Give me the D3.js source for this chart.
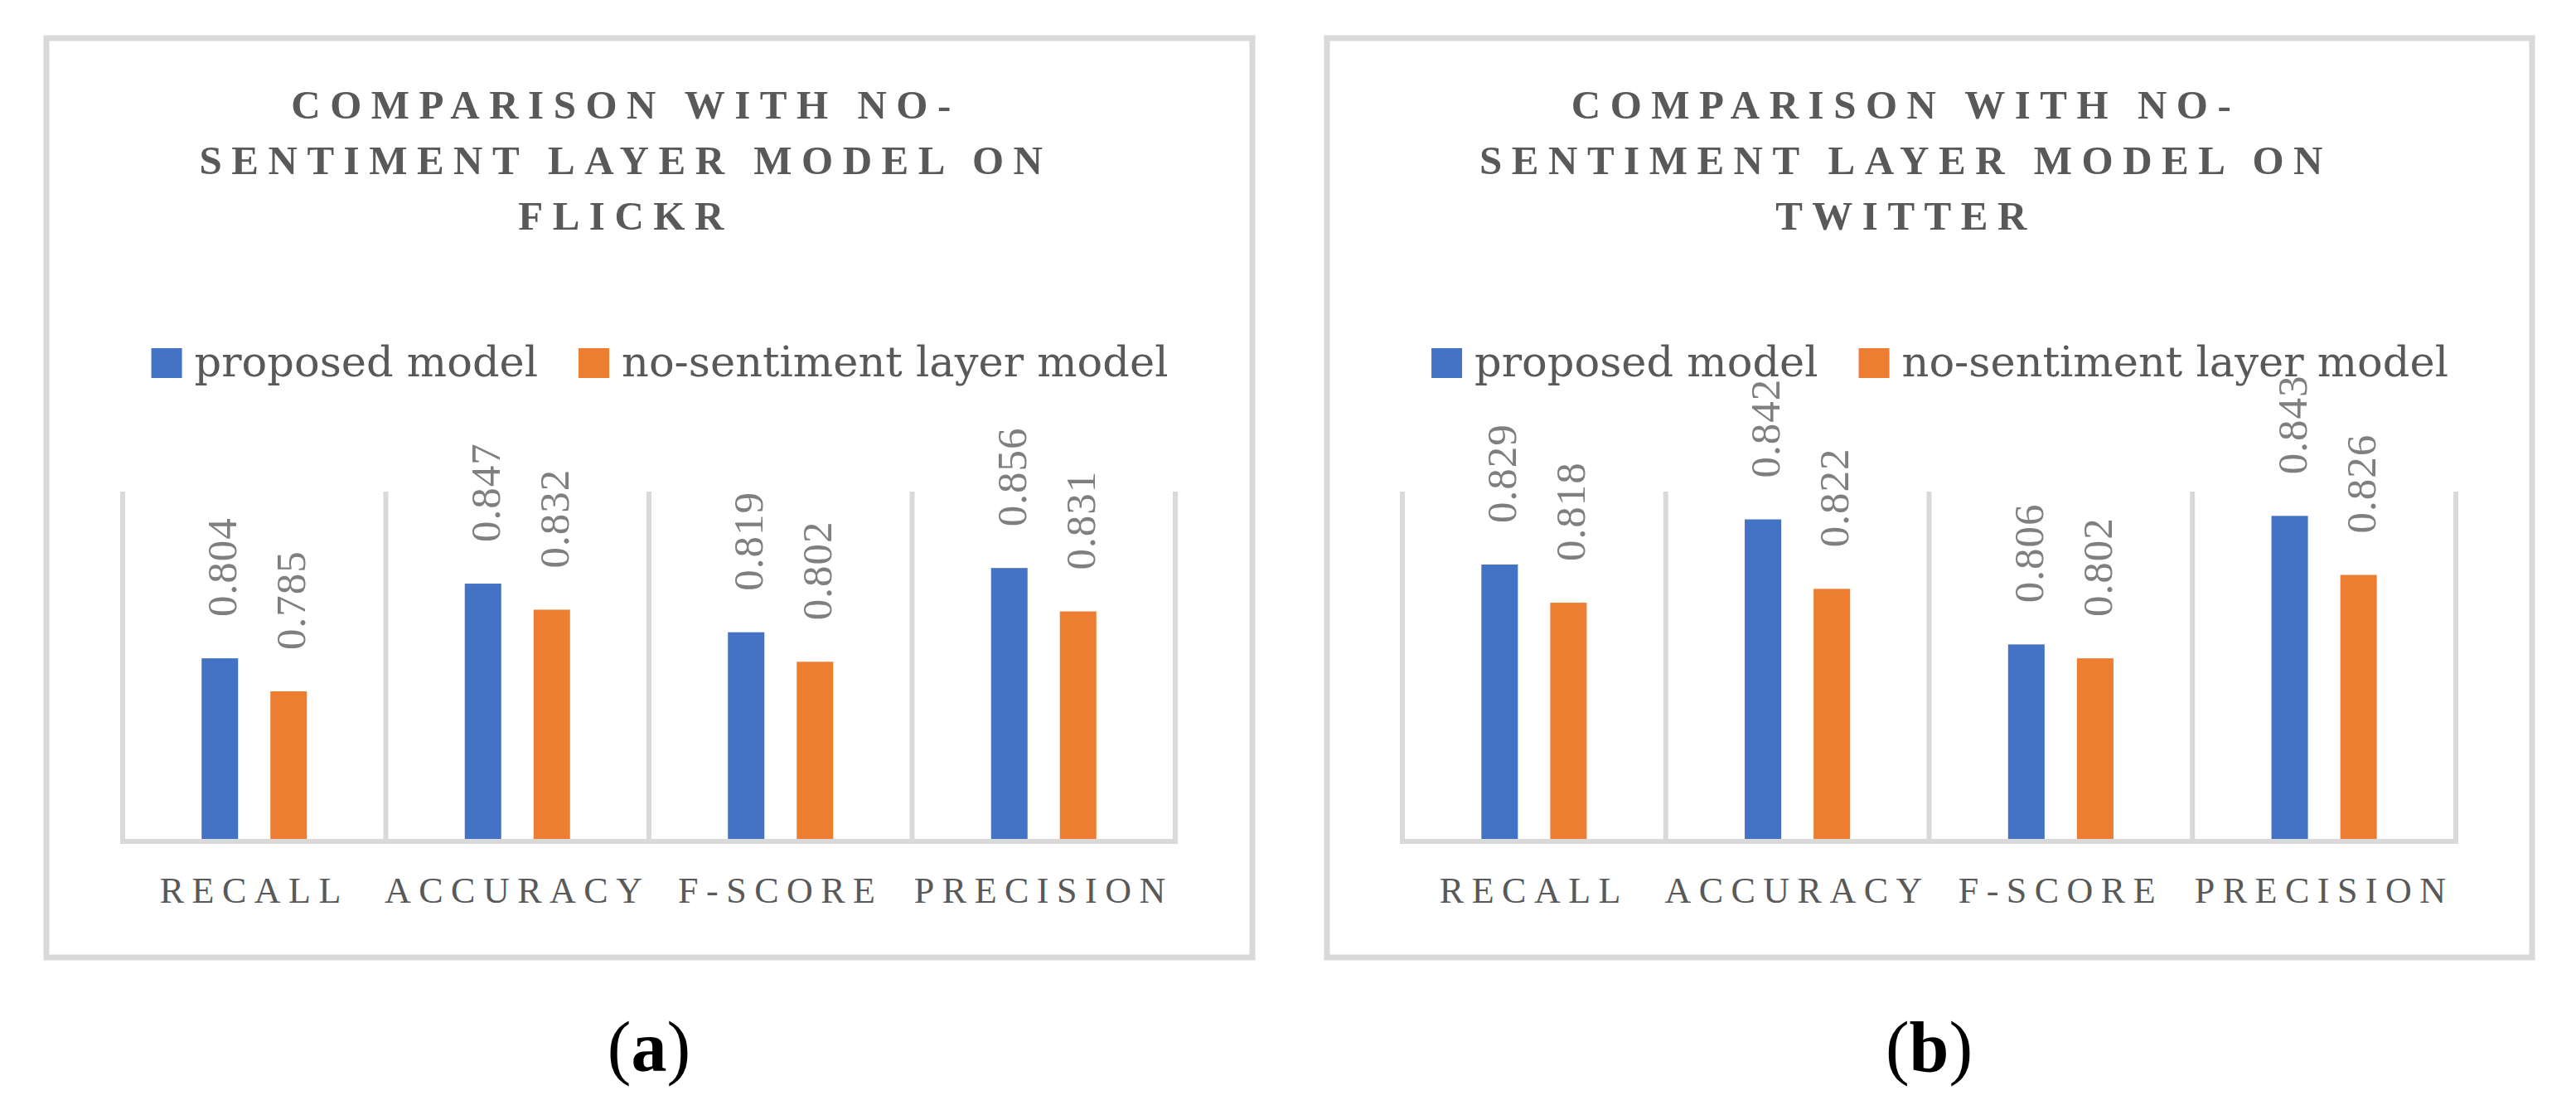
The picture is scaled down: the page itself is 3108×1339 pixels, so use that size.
<!DOCTYPE html>
<html>
<head>
<meta charset="utf-8">
<script src="https://cdn.jsdelivr.net/npm/d3@7"></script>
<style>
  body { margin: 0; background: #fff; }
  svg { display: block; }
</style>
</head>
<body>
<svg id="chart"></svg>
<script>
// Two Excel-style clustered bar panels: proposed vs no-sentiment layer model

const width = 3108;
const height = 1339;

const categories = ["RECALL", "ACCURACY", "F-SCORE", "PRECISION"];
const series = ["proposed model", "no-sentiment layer model"];
const colors = ["#4472c4", "#ed7d31"];

const flickrProposed = [0.804, 0.847, 0.819, 0.856];
const flickrNoSentiment = [0.785, 0.832, 0.802, 0.831];
const twitterProposed = [0.829, 0.842, 0.806, 0.843];
const twitterNoSentiment = [0.818, 0.822, 0.802, 0.826];

const flickrTitle = ["COMPARISON WITH NO-", "SENTIMENT LAYER MODEL ON", "FLICKR"];
const twitterTitle = ["COMPARISON WITH NO-", "SENTIMENT LAYER MODEL ON", "TWITTER"];

const flickrDomain = [0.70, 0.90];
const twitterDomain = [0.75, 0.85];

const svg = d3.select("#chart")
    .attr("width", width)
    .attr("height", height);

const panels = [
    { box: [56, 46, 1511, 1155], plot: [148, 1418], title: flickrTitle, domain: flickrDomain,
      values: [flickrProposed, flickrNoSentiment], caption: "a" },
    { box: [1601, 46, 3055, 1155], plot: [1692, 2963], title: twitterTitle, domain: twitterDomain,
      values: [twitterProposed, twitterNoSentiment], caption: "b" }
];

const plotTop = 593;
const plotBottom = 1012;
const grey = "#d9d9d9";
const textColor = "#595959";

panels.forEach(drawPanel);

function drawPanel(p) {
    const g = svg.append("g");

    // outer chart border
    g.append("rect")
        .attr("x", p.box[0])
        .attr("y", p.box[1])
        .attr("width", p.box[2] - p.box[0])
        .attr("height", p.box[3] - p.box[1])
        .attr("fill", "#fff")
        .attr("stroke", grey)
        .attr("stroke-width", 7);

    const x = d3.scaleBand()
        .domain(categories)
        .range(p.plot)
        .padding(0);

    const inner = d3.scaleBand()
        .domain(series)
        .range([x.bandwidth() * 0.3, x.bandwidth() * 0.7])
        .paddingInner(0.47);

    const y = d3.scaleLinear()
        .domain(p.domain)
        .range([plotBottom, plotTop]);

    const centre = (p.plot[0] + p.plot[1]) / 2;

    // title
    const title = g.append("text")
        .attr("text-anchor", "middle")
        .attr("font-family", "'Liberation Serif', serif")
        .attr("font-weight", "bold")
        .attr("font-size", 49)
        .attr("letter-spacing", 11.5)
        .attr("fill", textColor);
    p.title.forEach((line, i) => {
        title.append("tspan")
            .attr("x", centre - 28)
            .attr("y", 143 + i * 67)
            .text(line);
    });

    // legend
    const legend = g.append("g");
    let cursor = 0;
    series.forEach((s, i) => {
        legend.append("rect")
            .attr("x", cursor)
            .attr("y", 420)
            .attr("width", 37)
            .attr("height", 36)
            .attr("fill", colors[i]);
        const t = legend.append("text")
            .attr("x", cursor + 52)
            .attr("y", 454)
            .attr("font-family", "'DejaVu Serif', serif")
            .attr("font-size", 51)
            .attr("fill", textColor)
            .text(s);
        cursor += 52 + t.node().getComputedTextLength() + 49;
    });
    const legendWidth = cursor - 49;
    legend.attr("transform", `translate(${centre + 13 - legendWidth / 2},0)`);

    // category separator gridlines
    const edges = categories.map(c => x(c)).concat([p.plot[1]]);
    g.selectAll(".grid")
        .data(edges)
        .enter().append("line")
        .attr("x1", d => d)
        .attr("x2", d => d)
        .attr("y1", plotTop)
        .attr("y2", plotBottom + 3)
        .attr("stroke", grey)
        .attr("stroke-width", 6);

    // bars
    series.forEach((s, si) => {
        g.selectAll(".bar" + si)
            .data(p.values[si])
            .enter().append("rect")
            .attr("x", (d, i) => x(categories[i]) + inner(s))
            .attr("y", d => y(d))
            .attr("width", inner.bandwidth())
            .attr("height", d => plotBottom - y(d))
            .attr("fill", colors[si]);

        g.selectAll(".label" + si)
            .data(p.values[si])
            .enter().append("text")
            .attr("transform", (d, i) => {
                const cx = x(categories[i]) + inner(s) + inner.bandwidth() / 2;
                return `translate(${cx + 20},${y(d) - 50}) rotate(-90)`;
            })
            .attr("font-family", "'Liberation Serif', serif")
            .attr("font-size", 51)
            .attr("letter-spacing", 1)
            .attr("fill", "#7f7f7f")
            .text(d => d3.format(".3f")(d));
    });

    // x axis
    const axis = g.append("g")
        .attr("transform", `translate(0,${plotBottom})`)
        .call(d3.axisBottom(x).tickSize(0));
    axis.select(".domain").remove();
    axis.selectAll("text")
        .attr("y", 77)
        .attr("dy", 0)
        .attr("font-family", "'Liberation Serif', serif")
        .attr("font-size", 44)
        .attr("letter-spacing", 9.5)
        .attr("fill", textColor);

    g.append("line")
        .attr("x1", p.plot[0] - 3)
        .attr("x2", p.plot[1] + 3)
        .attr("y1", plotBottom + 3)
        .attr("y2", plotBottom + 3)
        .attr("stroke", grey)
        .attr("stroke-width", 6);

    // sub-figure caption
    const cap = svg.append("text")
        .attr("x", centre)
        .attr("y", 1292)
        .attr("text-anchor", "middle")
        .attr("font-family", "'Liberation Serif', serif")
        .attr("font-size", 86)
        .attr("fill", "#000");
    cap.append("tspan").text("(");
    cap.append("tspan").attr("font-weight", "bold").text(p.caption);
    cap.append("tspan").text(")");
}
</script>
</body>
</html>
